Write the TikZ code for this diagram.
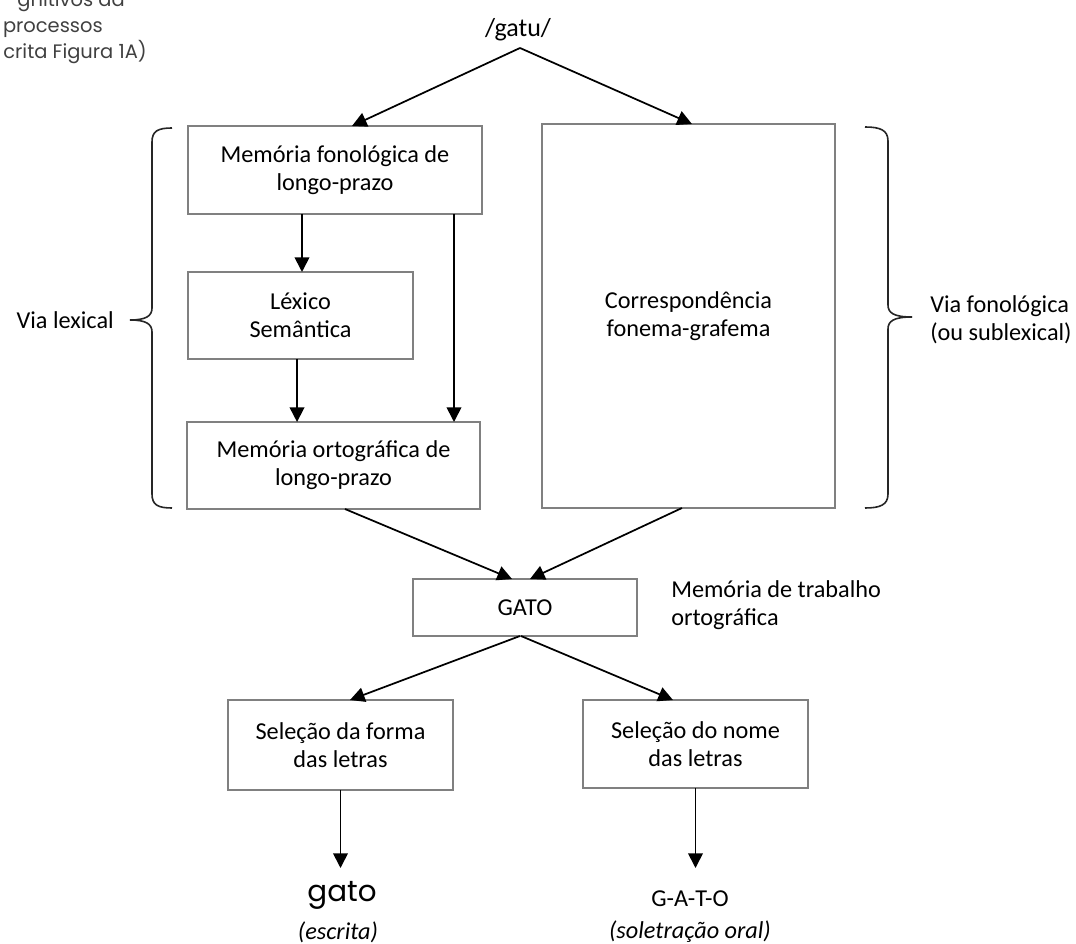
\documentclass[tikz,border=0pt]{standalone}
\usepackage{fontspec}
\setmainfont{Carlito}
\newfontfamily\notefont{Poppins}
\newfontfamily\handfont{Poppins}
\usetikzlibrary{arrows.meta}

\begin{document}
\begin{tikzpicture}[x=0.75pt,y=-0.75pt,
  box/.style={draw=black!50, line width=0.9pt, inner sep=0pt, outer sep=0pt,
    align=center, font=\fontsize{18.2}{21}\selectfont},
  arr/.style={line width=1.3pt, -{Triangle[length=11pt,width=11pt]}},
  brace/.style={line width=1.2pt, black!85},
  lbl/.style={font=\fontsize{18.2}{21}\selectfont, inner sep=0pt},
  note/.style={font=\notefont\fontsize{14.6}{17}\selectfont, text=black!75, inner sep=0pt, anchor=base east},
]
\useasboundingbox (0,0) rectangle (1076,944);

% caption fragment, top left
\node[note] (n1) at (125,7) {gnitivos da};
\node[note] (n2) at (103,33) {processos};
\node[note] (n3) at (147,59) {crita Figura 1A)};

% input
\node[lbl, font=\fontsize{19.5}{23}\selectfont] (gatu) at (518,30) {/gatu/};
\coordinate (top) at (520,48);

% boxes
\node[box, minimum width=220.5pt, minimum height=66pt] (fon) at (335,170) {Memória fonológica de\\longo-prazo};
\node[box, minimum width=168.75pt, minimum height=65.25pt] (lex) at (300.5,315.5) {Léxico\\Semântica};
\node[box, minimum width=219.75pt, minimum height=65.25pt] (ort) at (333.5,465.5) {Memória ortográfica de\\longo-prazo};
\node[box, minimum width=219.75pt, minimum height=288pt] (cfg) at (688.5,316) {Correspondência\\fonema-grafema};
\node[box, minimum width=168pt, minimum height=42.75pt] (gato) at (525,607.5) {GATO};
\node[box, minimum width=168.75pt, minimum height=67.5pt] (forma) at (340.5,745) {Seleção da forma\\das letras};
\node[box, minimum width=168.75pt, minimum height=66pt] (nome) at (695.5,744) {Seleção do nome\\das letras};

% side labels
\node[lbl, anchor=east] (vlex) at (114,320) {Via lexical};
\node[lbl, anchor=west, align=left] (vfon) at (930,320) {Via fonológica\\(ou sublexical)};
\node[lbl, anchor=west, align=left] (mtrab) at (671,605) {Memória de trabalho\\ortográfica};

% braces
\draw[brace] (172,128) .. controls (158,128) and (152,131) .. (152,142) -- (152,308)
  .. controls (152,316) and (146,320) .. (130,320);
\draw[brace] (130,320) .. controls (146,320) and (152,324) .. (152,332) -- (152,494)
  .. controls (152,505) and (158,508) .. (172,508);
\draw[brace] (865,127) .. controls (880,127) and (888,130) .. (888,141) -- (888,305)
  .. controls (888,313) and (894,317) .. (912,317);
\draw[brace] (912,317) .. controls (894,317) and (888,321) .. (888,329) -- (888,494)
  .. controls (888,505) and (880,508) .. (865,508);

% outputs
\coordinate (endL) at (340,868);
\coordinate (endR) at (697,868);
\node[inner sep=0pt, font=\handfont\fontsize{22}{25}\selectfont] (escr) at (342,895) {gato};
\node[lbl, font=\itshape\fontsize{18.2}{21}\selectfont] (escrl) at (338,932) {(escrita)};
\node[lbl] (sol) at (690,899) {G-A-T-O};
\node[lbl, font=\itshape\fontsize{18.2}{21}\selectfont] (soll) at (690,932) {(soletração oral)};

% connectors
\draw[arr] (top) -- ([xshift=12.75pt]fon.north);
\draw[arr] (top) -- ([xshift=2.6pt]cfg.north);
\draw[arr] ([xshift=-24.75pt]fon.south) -- ([xshift=-24.75pt]fon.south |- lex.north);
\draw[arr] ([xshift=89.25pt]fon.south) -- ([xshift=89.25pt]fon.south |- ort.north);
\draw[arr] ([xshift=-2.6pt]lex.south) -- ([xshift=-2.6pt]lex.south |- ort.north);
\draw[arr] ([xshift=8.6pt]ort.south) -- ([xshift=-9.75pt]gato.north);
\draw[arr] ([xshift=-4.9pt]cfg.south) -- ([xshift=3.75pt]gato.north);
\draw[arr] ([xshift=-3.75pt]gato.south) -- ([xshift=7.1pt]forma.north);
\draw[arr] ([xshift=-3pt]gato.south) -- ([xshift=-16.9pt]nome.north);
\draw[arr] (forma.south) -- (forma.south |- endL);
\draw[arr] (nome.south) -- (nome.south |- endR);
\end{tikzpicture}
\end{document}
